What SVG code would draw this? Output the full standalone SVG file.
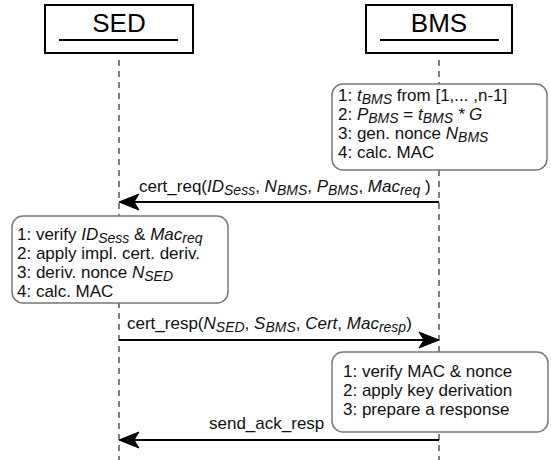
<svg xmlns="http://www.w3.org/2000/svg" width="551" height="460" viewBox="0 0 551 460">
<defs>
<style>
.hdr{fill:#fff;stroke:#000;stroke-width:2}
.ul{stroke:#000;stroke-width:2}
.ht{font-family:"Liberation Sans",Arial,sans-serif;font-size:26px;fill:#000;text-anchor:middle}
.life{stroke:#555;stroke-width:1.5;stroke-dasharray:6 5;fill:none}
.note{fill:#fff;stroke:#777;stroke-width:1.5}
.t{font-family:"Liberation Sans",Arial,sans-serif;font-size:17px;fill:#111}
.i{font-style:italic}
.s{font-size:14px;font-style:italic}
.msg{stroke:#000;stroke-width:2;fill:none}
.ah{fill:#000;stroke:#000;stroke-width:1}
</style>
</defs>
<g id="lifelines">
<line class="life" x1="119" y1="60" x2="119" y2="460"/>
<line class="life" x1="439" y1="60" x2="439" y2="460"/>
</g>
<g id="SED">
<rect class="hdr" x="45" y="5" width="148" height="48"/>
<line class="ul" x1="59" y1="40" x2="178" y2="40"/>
<text class="ht" x="119" y="32">SED</text>
</g>
<g id="BMS">
<rect class="hdr" x="366" y="5" width="146" height="48"/>
<line class="ul" x1="380" y1="40" x2="499" y2="40"/>
<text class="ht" x="439" y="32">BMS</text>
</g>
<g id="note-bms-1">
<rect class="note" x="332" y="84" width="215" height="86" rx="11"/>
<text class="t" x="338" y="101">1: <tspan class="i">t</tspan><tspan class="s" dy="3">BMS</tspan><tspan dy="-3"> from [1,... ,n-1]</tspan></text>
<text class="t" x="338" y="120">2: <tspan class="i">P</tspan><tspan class="s" dy="3">BMS</tspan><tspan dy="-3"> = </tspan><tspan class="i">t</tspan><tspan class="s" dy="3">BMS</tspan><tspan class="i" dy="-3"> * G</tspan></text>
<text class="t" x="338" y="139">3: gen. nonce <tspan class="i">N</tspan><tspan class="s" dy="3">BMS</tspan></text>
<text class="t" x="338" y="158">4: calc. MAC</text>
</g>
<g id="note-sed">
<rect class="note" x="12" y="216" width="216" height="87" rx="11"/>
<text class="t" x="17" y="240">1: verify <tspan class="i">ID</tspan><tspan class="s" dy="3">Sess</tspan><tspan dy="-3"> &amp; </tspan><tspan class="i">Mac</tspan><tspan class="s" dy="3">req</tspan></text>
<text class="t" x="17" y="259">2: apply impl. cert. deriv.</text>
<text class="t" x="17" y="278">3: deriv. nonce <tspan class="i">N</tspan><tspan class="s" dy="3">SED</tspan></text>
<text class="t" x="17" y="297">4: calc. MAC</text>
</g>
<g id="note-bms-2">
<rect class="note" x="332" y="352" width="216" height="80" rx="11"/>
<text class="t" x="343" y="377">1: verify MAC &amp; nonce</text>
<text class="t" x="343" y="396">2: apply key derivation</text>
<text class="t" x="343" y="415">3: prepare a response</text>
</g>
<g id="connectors">
<g id="cert_req">
<line class="msg" x1="439" y1="202" x2="128" y2="202"/>
<path class="ah" d="M119,202 L139,194 L134,202 L139,210 Z"/>
<text class="t" x="139" y="192">cert_req(<tspan class="i">ID</tspan><tspan class="s" dy="3">Sess</tspan><tspan dy="-3">, </tspan><tspan class="i">N</tspan><tspan class="s" dy="3">BMS</tspan><tspan dy="-3">, </tspan><tspan class="i">P</tspan><tspan class="s" dy="3">BMS</tspan><tspan dy="-3">, </tspan><tspan class="i">Mac</tspan><tspan class="s" dy="3">req</tspan><tspan dy="-3"> )</tspan></text>
</g>
<g id="cert_resp">
<line class="msg" x1="119" y1="340" x2="430" y2="340"/>
<path class="ah" d="M439,340 L419,332 L424,340 L419,348 Z"/>
<text class="t" x="127" y="329">cert_resp(<tspan class="i">N</tspan><tspan class="s" dy="3">SED</tspan><tspan dy="-3">, </tspan><tspan class="i">S</tspan><tspan class="s" dy="3">BMS</tspan><tspan dy="-3">, </tspan><tspan class="i">Cert</tspan><tspan>, </tspan><tspan class="i">Mac</tspan><tspan class="s" dy="3">resp</tspan><tspan dy="-3">)</tspan></text>
</g>
<g id="send_ack_resp">
<line class="msg" x1="439" y1="440" x2="128" y2="440"/>
<path class="ah" d="M119,440 L139,432 L134,440 L139,448 Z"/>
<text class="t" x="209" y="429">send_ack_resp</text>
</g>
</g>
</svg>
